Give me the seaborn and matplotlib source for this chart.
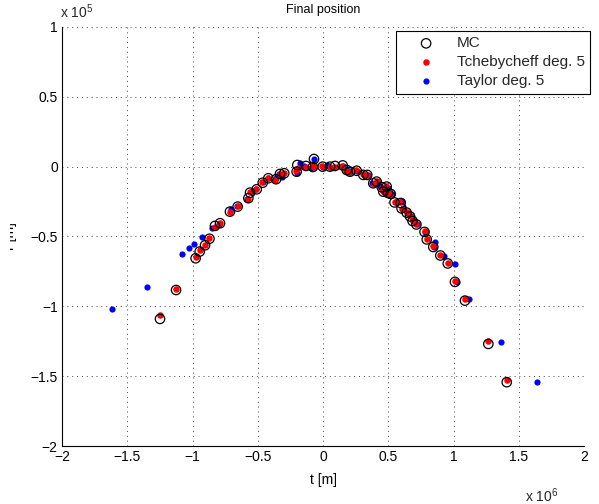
import matplotlib
matplotlib.use("Agg")
import matplotlib.pyplot as plt
import pandas as pd
import seaborn as sns
from matplotlib.ticker import FuncFormatter
from matplotlib.transforms import Bbox

# Final position samples: t in units of 1e6 m, r in units of 1e5 m
mc_t = [-1.249, -1.126, -0.976, -0.945, -0.904, -0.870, -0.828, -0.789, -0.713, -0.654,
        -0.572, -0.559, -0.508, -0.462, -0.419, -0.360, -0.330, -0.297, -0.197, -0.202,
        -0.130, -0.069, -0.077, -0.002, 0.054, 0.092, 0.151, 0.182, 0.207, 0.258,
        0.309, 0.339, 0.385, 0.411, 0.450, 0.488, 0.462, 0.498, 0.519, 0.548,
        0.595, 0.602, 0.641, 0.667, 0.686, 0.716, 0.778, 0.795, 0.845, 0.899,
        0.956, 1.011, 1.088, 1.267, 1.408]
mc_r = [-1.090, -0.883, -0.656, -0.608, -0.563, -0.516, -0.424, -0.405, -0.322, -0.286,
        -0.226, -0.186, -0.162, -0.115, -0.083, -0.090, -0.052, -0.047, 0.012, -0.036,
        0.005, 0.055, -0.002, 0.000, 0.000, 0.005, 0.009, -0.024, -0.036, -0.029,
        -0.059, -0.059, -0.119, -0.107, -0.147, -0.143, -0.179, -0.188, -0.195, -0.256,
        -0.260, -0.299, -0.329, -0.356, -0.389, -0.414, -0.467, -0.521, -0.575, -0.636,
        -0.693, -0.825, -0.959, -1.269, -1.543]

tch_t = [-1.249, -1.126, -0.976, -0.945, -0.905, -0.870, -0.831, -0.792, -0.716, -0.652,
         -0.574, -0.556, -0.510, -0.464, -0.421, -0.366, -0.328, -0.300, -0.190, -0.205,
         -0.127, -0.072, -0.079, -0.010, 0.050, 0.090, 0.148, 0.178, 0.203, 0.256,
         0.307, 0.337, 0.388, 0.413, 0.452, 0.486, 0.460, 0.496, 0.517, 0.552,
         0.592, 0.604, 0.643, 0.664, 0.688, 0.714, 0.780, 0.797, 0.843, 0.899,
         0.956, 1.011, 1.088, 1.267, 1.408]
tch_r = [-1.062, -0.875, -0.645, -0.598, -0.558, -0.509, -0.431, -0.400, -0.327, -0.280,
         -0.230, -0.183, -0.158, -0.111, -0.080, -0.095, -0.049, -0.043, -0.010, -0.030,
         0.000, -0.005, 0.002, 0.003, -0.005, 0.000, 0.005, -0.028, -0.038, -0.025,
         -0.055, -0.057, -0.123, -0.103, -0.150, -0.140, -0.175, -0.185, -0.198, -0.252,
         -0.255, -0.303, -0.325, -0.352, -0.385, -0.410, -0.462, -0.515, -0.570, -0.630,
         -0.687, -0.818, -0.947, -1.248, -1.527]

tay_t = [-1.617, -1.351, -1.078, -1.025, -0.985, -0.927, -0.848, -0.797, -0.705, -0.659,
         -0.579, -0.549, -0.513, -0.457, -0.419, -0.360, -0.335, -0.316, -0.176, -0.202,
         -0.146, -0.069, -0.090, -0.002, 0.028, 0.054, 0.151, 0.182, 0.210, 0.260,
         0.311, 0.341, 0.373, 0.415, 0.437, 0.500, 0.465, 0.503, 0.525, 0.558,
         0.603, 0.610, 0.644, 0.672, 0.692, 0.722, 0.782, 0.858, 0.853, 0.930,
         1.011, 1.029, 1.119, 1.362, 1.642]
tay_r = [-1.019, -0.859, -0.627, -0.584, -0.557, -0.505, -0.437, -0.410, -0.305, -0.281,
         -0.228, -0.179, -0.160, -0.107, -0.083, -0.084, -0.052, -0.072, 0.029, -0.043,
         0.005, 0.055, -0.010, 0.000, 0.012, 0.000, 0.008, -0.024, -0.036, -0.029,
         -0.059, -0.059, -0.119, -0.107, -0.138, -0.155, -0.179, -0.188, -0.195, -0.256,
         -0.246, -0.299, -0.331, -0.356, -0.389, -0.414, -0.465, -0.537, -0.577, -0.637,
         -0.699, -0.823, -0.947, -1.257, -1.541]

series_labels = ["MC", "Tchebycheff deg. 5", "Taylor deg. 5"]
x_ticks = [-2, -1.5, -1, -0.5, 0, 0.5, 1, 1.5, 2]
y_ticks = [-2, -1.5, -1, -0.5, 0, 0.5, 1]

sns.set_theme(style="white")
plt.rcParams["font.family"] = ["Liberation Sans", "DejaVu Sans"]
plt.rcParams["mathtext.fontset"] = "custom"
plt.rcParams["mathtext.rm"] = "Liberation Sans"
plt.rcParams["mathtext.it"] = "Liberation Sans:italic"

W, H = 599, 504
fig = plt.figure(figsize=(W / 100, H / 100), dpi=100)
fig.patch.set_facecolor("white")
ax = fig.add_axes([62 / W, 1 - 446 / H, (584 - 62) / W, (446 - 27) / H])
ax.set_facecolor("white")

mc = pd.DataFrame({"t": mc_t, "r": mc_r})
tch = pd.DataFrame({"t": tch_t, "r": tch_r})
tay = pd.DataFrame({"t": tay_t, "r": tay_r})

sns.scatterplot(data=mc, x="t", y="r", ax=ax, marker="o", s=46,
                facecolors="none", edgecolor="black", linewidth=0.9,
                zorder=4, label=series_labels[0])
sns.scatterplot(data=tch, x="t", y="r", ax=ax, marker="o", s=22,
                color="#ff0000", linewidth=0, zorder=3, label=series_labels[1])
sns.scatterplot(data=tay, x="t", y="r", ax=ax, marker="o", s=20,
                color="#0000ff", linewidth=0, zorder=2, label=series_labels[2])

ax.set_xlim(-2, 2)
ax.set_ylim(-2, 1)
ax.set_xticks(x_ticks)
ax.set_yticks(y_ticks)
fmt = FuncFormatter(lambda v, p: ("%g" % v).replace("-", "\u2212"))
ax.xaxis.set_major_formatter(fmt)
ax.yaxis.set_major_formatter(fmt)
ax.tick_params(axis="both", which="major", direction="in", length=4, width=0.8,
               colors="black", labelsize=10, pad=3, top=False, right=False)

for side in ("top", "right"):
    ax.spines[side].set_visible(False)
for side in ("left", "bottom"):
    ax.spines[side].set_color("black")
    ax.spines[side].set_linewidth(0.8)

ax.grid(True, color="#444444", linestyle=(0, (1, 4)), linewidth=0.7)
ax.set_axisbelow(True)

ax.set_title("Final position", fontsize=9, color="black", pad=10)
ax.set_xlabel("t [m]", fontsize=10, color="black")
ax.xaxis.label.set_va("baseline")
ax.xaxis.set_label_coords(0.5, -(484 - 446) / (446 - 27))

ax.set_ylabel("r [m]", fontsize=10, color="black")
ax.yaxis.set_label_coords(-(62 - 17) / (584 - 62), 0.5)
ax.yaxis.label.set_clip_box(Bbox([[10, 0], [W, H]]))
ax.yaxis.label.set_clip_on(True)

# Exponent labels for the scaled axes
fig.text(60 / W, 1 - 18 / H, r"x 10$^{5}$", fontsize=10, ha="left", va="baseline")
fig.text(525 / W, 1 - 502 / H, r"x 10$^{6}$", fontsize=10, ha="left", va="baseline")

handles, labels = ax.get_legend_handles_labels()
leg = ax.legend(handles, labels, loc="upper right",
                bbox_to_anchor=(590 / W, 1 - 31 / H), bbox_transform=fig.transFigure,
                frameon=True, fancybox=False, shadow=False, framealpha=1,
                edgecolor="black", facecolor="white", fontsize=11,
                borderaxespad=0, borderpad=0.35, handlelength=3.3,
                handletextpad=0.35, labelspacing=0.33)
leg.get_frame().set_linewidth(0.8)
leg.set_zorder(10)

fig.savefig("out.png", dpi=100, facecolor="white")
